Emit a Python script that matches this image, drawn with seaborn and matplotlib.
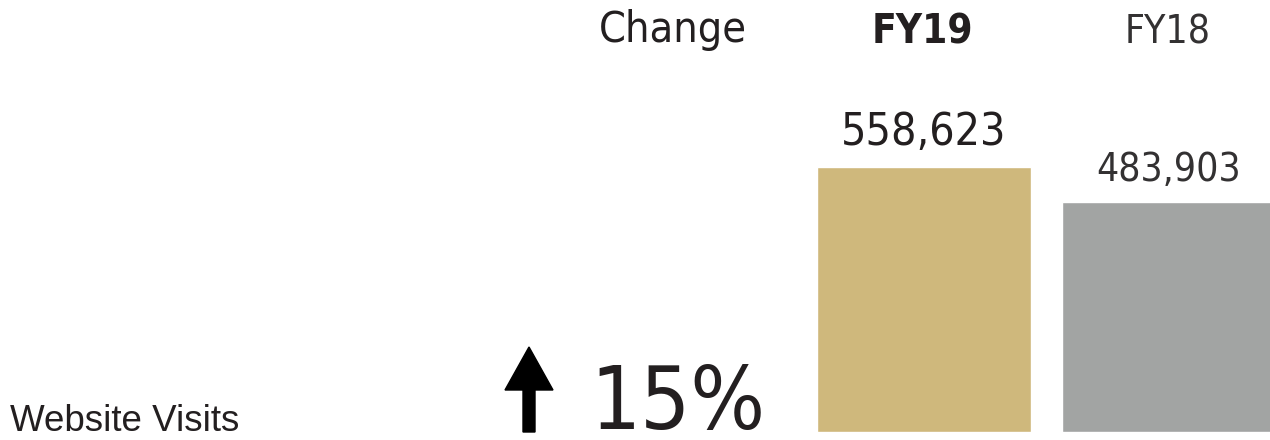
import matplotlib
matplotlib.use("Agg")
import matplotlib.pyplot as plt
from matplotlib.patches import FancyArrow
import seaborn as sns
import pandas as pd

# Values
years = ["FY19", "FY18"]
visits = [558623, 483903]
bar_colors = ["#CFB87C", "#A2A4A3"]
metric = "Website Visits"
change_label = "15%"

W, H = 1270, 440
sns.set_theme(style="white")
plt.rcParams["font.family"] = ["DejaVu Sans"]

fig = plt.figure(figsize=(W / 100, H / 100), dpi=100)
base_px = 8
ax = fig.add_axes([0, base_px / H, 1, 1 - base_px / H])

df = pd.DataFrame({"year": years, "visits": visits})
sns.barplot(data=df, x="year", y="visits", hue="year", palette=bar_colors,
            order=years, width=0.873, legend=False, ax=ax, saturation=1)

# place bars: 245 px per category step, first bar centered at x=924 px
step = 245.0
ax.set_xlim(-924 / step, (W - 924) / step)
ymax = visits[0] * (H - base_px) / 265.0
ax.set_ylim(0, ymax)
ax.axis("off")

ink = "#231F20"
soft = "#333132"
cond = dict(family="DejaVu Sans", stretch="condensed")


def px(x, y):
    return x / W, 1 - y / H


# Column headers
fig.text(*px(673, 42), "Change", ha="center", va="baseline", fontsize=31,
         color=ink, **cond)
fig.text(*px(922, 44), years[0], ha="center", va="baseline", fontsize=29,
         color=ink, weight="bold", **cond)
fig.text(*px(1168, 44), years[1], ha="center", va="baseline", fontsize=28,
         color=soft, weight="light", **cond)

# Value labels above bars
for i, (v, fs, wt, col) in enumerate(zip(visits, [32, 28], ["medium", "light"], [ink, soft])):
    ax.annotate(f"{v:,}", xy=(i, v), xytext=(0, 13), textcoords="offset pixels",
                ha="center", va="bottom", fontsize=fs, color=col, weight=wt, **cond)

# Change indicator
fig.text(*px(678, 429), change_label, ha="center", va="baseline", fontsize=63,
         color=ink, **cond)
arrow = FancyArrow(5.29, base_px / 100, 0, 0.85, width=0.12, head_width=0.48,
                   head_length=0.43, length_includes_head=True, color="black",
                   transform=fig.dpi_scale_trans)
fig.patches.append(arrow)

# Metric name
fig.text(*px(10, 431), metric, ha="left", va="baseline", fontsize=26.5,
         color=ink, family="Liberation Sans")

fig.savefig("out.png", dpi=100, facecolor="white")
